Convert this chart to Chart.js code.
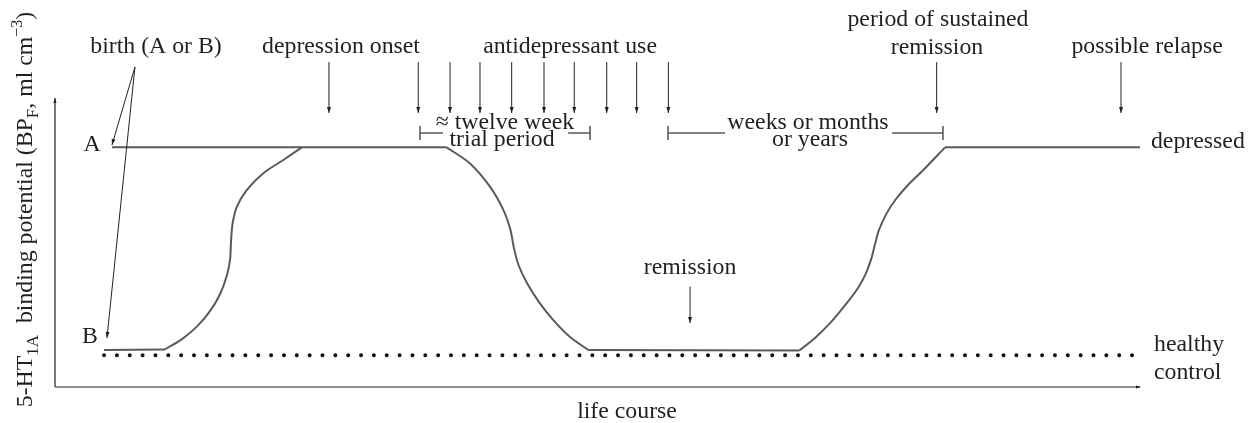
<!DOCTYPE html>
<html><head><meta charset="utf-8">
<script src="https://cdn.jsdelivr.net/npm/chart.js@4"></script>
<style>html,body{margin:0;padding:0;background:#fff}#wrap{width:1252px;height:423px}</style>
</head><body><div id="wrap"><canvas id="c" width="1252" height="423"></canvas></div>
<script>
// ---- data (life course 0-100, binding potential 0-100 in arbitrary units) ----
const bStartX = [4.52, 10.14];
const bStartY = [12.9, 13.1];

const riseX = [10.14, 11.71, 13.12, 14.30, 15.23, 15.86, 16.14, 16.22, 16.36, 16.75, 17.67, 19.20, 21.04, 22.76];
const riseY = [13.1, 16.7, 21.2, 26.5, 32.5, 39.1, 44.6, 50.5, 56.8, 62.7, 68.6, 74.5, 79.1, 83.5];

const aFlatX = [5.25, 36.10];
const aFlatY = [83.5, 83.5];

const fallX = [36.10, 38.25, 40.09, 41.32, 41.98, 42.30, 42.72, 43.50, 44.61, 45.93, 47.47, 49.15];
const fallY = [83.5, 77.9, 69.8, 61.7, 54.7, 48.4, 42.5, 36.2, 29.6, 23.3, 17.4, 12.9];

const remissionX = [49.15, 68.6];
const remissionY = [12.9, 12.7];

const relapseX = [68.60, 70.05, 71.52, 72.97, 74.01, 74.75, 75.25, 75.58, 75.94, 76.65, 77.51, 78.62, 80.03, 82.03];
const relapseY = [12.7, 17.1, 22.6, 29.2, 34.5, 39.7, 44.9, 49.8, 54.7, 60.5, 65.5, 70.4, 75.6, 83.5];

const depFlatX = [82.03, 100];
const depFlatY = [83.5, 83.5];

const healthyX = [4.52, 99.7];
const healthyY = [11.1, 11.1];

// vertical event arrows: x, top y, tip y
const eventArrowX   = [25.25, 33.48, 36.41, 39.17, 42.09, 45.07, 47.86, 50.85, 53.61, 56.53, 81.26, 98.25, 58.53];
const eventArrowTop = [113.2, 113.2, 113.2, 113.2, 113.2, 113.2, 113.2, 113.2, 113.2, 113.2, 113.2, 113.2, 35.0];
const eventArrowTip = [95.5, 95.5, 95.5, 95.5, 95.5, 95.5, 95.5, 95.5, 95.5, 95.5, 95.5, 95.5, 22.3];

// birth arrows: from one origin to A and to B
const birthOrigin = [7.37, 111.5];
const birthTipsX = [5.25, 4.79];
const birthTipsY = [84.3, 17.1];

// brackets: [xStart, xGapStart, xGapEnd, xEnd, y]
const bracketTwelve = [33.64, 35.76, 47.28, 49.31, 88.5];
const bracketWeeks  = [56.50, 61.75, 77.14, 81.84, 88.5];

// labels: text, x, y, align
const labelText = ["birth (A or B)", "depression onset", "antidepressant use", "period of sustained", "remission",
  "possible relapse", "\u2248 twelve week", "trial period", "weeks or months", "or years", "depressed",
  "healthy", "control", "A", "B", "remission", "life course"];
const labelX = [9.31, 26.36, 47.47, 81.38, 81.29, 100.65, 41.47, 41.2, 69.4, 69.59, 101.01, 101.29, 101.29, 3.41, 3.23, 58.53, 52.72];
const labelY = [118.5, 118.5, 118.5, 127.9, 118.1, 118.5, 92.0, 86.1, 92.0, 86.1, 85.4, 14.6, 4.9, 84.3, 17.4, 41.5, -8.7];
const labelAlign = ["center","center","center","center","center","center","center","center","center","center","left","left","left","center","center","center","center"];

// y-axis title pieces: text, kind (n normal, b sub, p sup)
const yTitleParts = ["5-HT", "1A", "  binding potential (BP", "F", ", ml cm", "\u22123", ")"];
const yTitleKinds = ["n", "b", "n", "b", "n", "p", "n"];

const pts = (xs, ys) => xs.map((x, i) => ({x, y: ys[i]}));
const LINE = '#5a5a5a';
const INK = '#231f20';
const FONT = '"Liberation Serif", "Times New Roman", serif';

function seg(xs, ys, tension) {
  return {data: pts(xs, ys), borderColor: LINE, borderWidth: 2, pointRadius: 0, tension: tension, fill: false};
}

function arrowHead(ctx, x0, y0, x1, y1, len, hw) {
  const a = Math.atan2(y1 - y0, x1 - x0);
  ctx.beginPath();
  ctx.moveTo(x1, y1);
  ctx.lineTo(x1 - len * Math.cos(a) + hw * Math.sin(a), y1 - len * Math.sin(a) - hw * Math.cos(a));
  ctx.lineTo(x1 - len * Math.cos(a) - hw * Math.sin(a), y1 - len * Math.sin(a) + hw * Math.cos(a));
  ctx.closePath();
  ctx.fill();
}
function arrow(ctx, x0, y0, x1, y1) {
  ctx.beginPath(); ctx.moveTo(x0, y0); ctx.lineTo(x1, y1); ctx.stroke();
  arrowHead(ctx, x0, y0, x1, y1, 6, 2);
}

const overlay = {
  id: 'overlay',
  afterDatasetsDraw(chart) {
    const ctx = chart.ctx, xs = chart.scales.x, ys = chart.scales.y, ca = chart.chartArea;
    const X = v => xs.getPixelForValue(v), Y = v => ys.getPixelForValue(v);
    ctx.save();
    // axes
    ctx.strokeStyle = INK; ctx.fillStyle = INK; ctx.lineWidth = 1.2;
    ctx.beginPath(); ctx.moveTo(ca.left, ca.bottom); ctx.lineTo(ca.left, ca.top - 2); ctx.stroke();
    arrowHead(ctx, ca.left, ca.bottom, ca.left, ca.top - 2, 5, 1.6);
    ctx.beginPath(); ctx.moveTo(ca.left, ca.bottom); ctx.lineTo(ca.right, ca.bottom); ctx.stroke();
    arrowHead(ctx, ca.left, ca.bottom, ca.right + 1, ca.bottom, 5, 1.6);

    // event arrows
    ctx.lineWidth = 1;
    eventArrowX.forEach((x, i) => arrow(ctx, X(x), Y(eventArrowTop[i]), X(x), Y(eventArrowTip[i])));
    // birth arrows
    birthTipsX.forEach((x, i) => arrow(ctx, X(birthOrigin[0]), Y(birthOrigin[1]), X(x), Y(birthTipsY[i])));

    // brackets
    ctx.strokeStyle = LINE; ctx.lineWidth = 1.6;
    [bracketTwelve, bracketWeeks].forEach(b => {
      const y = Y(b[4]);
      ctx.beginPath();
      ctx.moveTo(X(b[0]), y); ctx.lineTo(X(b[1]), y);
      ctx.moveTo(X(b[2]), y); ctx.lineTo(X(b[3]), y);
      ctx.moveTo(X(b[0]), y - 7); ctx.lineTo(X(b[0]), y + 7);
      ctx.moveTo(X(b[3]), y - 7); ctx.lineTo(X(b[3]), y + 7);
      ctx.stroke();
    });

    // labels
    ctx.fillStyle = INK;
    ctx.font = '23.8px ' + FONT;
    ctx.textBaseline = 'middle';
    labelText.forEach((t, i) => {
      ctx.textAlign = labelAlign[i];
      ctx.fillText(t, X(labelX[i]), Y(labelY[i]));
    });

    // y-axis title (rotated with sub/superscripts)
    const fonts = {n: '23.8px ' + FONT, b: '17px ' + FONT, p: '16px ' + FONT};
    const shift = {n: 0, b: 6, p: -10};
    let total = 0;
    yTitleParts.forEach((t, i) => { ctx.font = fonts[yTitleKinds[i]]; total += ctx.measureText(t).width; });
    ctx.translate(32, (ca.top + ca.bottom) / 2 - 34);
    ctx.rotate(-Math.PI / 2);
    ctx.textAlign = 'left'; ctx.textBaseline = 'alphabetic';
    let cx = -total / 2;
    yTitleParts.forEach((t, i) => {
      const k = yTitleKinds[i];
      ctx.font = fonts[k];
      ctx.fillText(t, cx, shift[k]);
      cx += ctx.measureText(t).width;
    });
    ctx.restore();
  }
};

new Chart(document.getElementById('c'), {
  type: 'line',
  data: {
    datasets: [
      seg(bStartX, bStartY, 0),
      seg(riseX, riseY, 0.3),
      seg(aFlatX, aFlatY, 0),
      seg(fallX, fallY, 0.3),
      seg(remissionX, remissionY, 0),
      seg(relapseX, relapseY, 0.3),
      seg(depFlatX, depFlatY, 0),
      {data: pts(healthyX, healthyY), borderColor: '#111', borderWidth: 4, borderDash: [0, 12.85],
       borderCapStyle: 'round', pointRadius: 0, fill: false}
    ]
  },
  options: {
    responsive: false,
    devicePixelRatio: 1,
    animation: false,
    layout: {padding: {left: 55, right: 112, top: 100, bottom: 36}},
    scales: {
      x: {type: 'linear', min: 0, max: 100, display: false},
      y: {type: 'linear', min: 0, max: 100, display: false}
    },
    plugins: {legend: {display: false}, tooltip: {enabled: false}}
  },
  plugins: [overlay]
});
</script></body></html>
